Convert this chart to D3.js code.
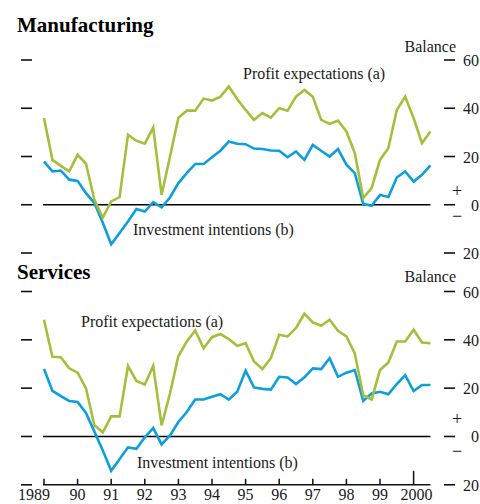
<!DOCTYPE html>
<html>
<head>
<meta charset="utf-8">
<script src="https://cdn.jsdelivr.net/npm/d3@7"></script>
<style>
  html, body { margin: 0; padding: 0; background: #fff; }
  svg { display: block; }
  text { font-family: "Liberation Serif", "Times New Roman", serif; fill: #1a1a1a; }
</style>
</head>
<body>
<svg id="chart" width="480" height="504"></svg>
<script>
// Quarterly survey balances, 1989 Q1 to 2000 Q3
const quarters = d3.range(47).map(i => 1989 + i / 4);

const mfgProfit = [36, 18.6, 16.1, 13.8, 20.7, 17, 2, -5.3, 1.4, 3.2, 29, 26.5, 25.3, 32, 4.1,
  20, 36.1, 39, 39, 44, 43.2, 44.8, 49, 43.8, 39.3, 35.2, 38, 36.1, 40, 39, 44.8, 47.6,
  44.8, 35.2, 33.5, 34.9, 30.4, 21.4, 2.8, 6.9, 18.6, 23.5, 39.3, 44.8, 35.9, 25.5, 30.4];
const mfgInvest = [17.9, 13.8, 14.2, 10.4, 9.9, 4.8, 0.7, -7.5, -16.4, -11.7, -6.9, -1.8, -2.8, 1.1, -1.1,
  3, 9, 13.1, 16.9, 16.9, 19.7, 22.4, 26.2, 25.3, 25.1, 23.3, 23.1, 22.5, 22.4, 19.7, 22.1, 18.6,
  24.8, 22.4, 20, 23.1, 16.6, 13.1, 0.4, -0.4, 4.1, 3.2, 11.3, 13.8, 9.6, 12.4, 16.3];
const svcProfit = [48.3, 33, 32.8, 28.2, 26.4, 19.9, 4.6, 1.7, 8.3, 8.3, 29.2, 23, 21.5, 29.2, 4.6,
  17.8, 33.3, 39.3, 43.9, 36.5, 41.1, 42.4, 40.3, 37.5, 38.6, 31, 27.9, 32.4, 42.1, 41.4, 44.9, 50.8,
  47.2, 45.8, 48.3, 43.7, 41.4, 34.4, 17.1, 15.3, 27.5, 30.6, 39.3, 39.3, 44.2, 38.9, 38.6];
const svcInvest = [27.9, 18.9, 16.7, 14.7, 14.3, 9.7, 2, -5.8, -14.2, -9.3, -4.5, -5.1, -0.3, 3.5, -3.3,
  0.4, 6, 10.1, 15.3, 15.3, 16.4, 17.5, 15.3, 18.5, 27.2, 20.3, 19.7, 19.4, 24.7, 24.4, 21.7, 24.5,
  28.2, 27.9, 32.4, 24.7, 26.4, 27.5, 14.7, 17.8, 18.5, 17.5, 21.7, 25.4, 18.8, 21.3, 21.3];

const yearTicks = [1989, 1990, 1991, 1992, 1993, 1994, 1995, 1996, 1997, 1998, 1999, 2000];
const yearLabels = ["1989", "90", "91", "92", "93", "94", "95", "96", "97", "98", "99", "2000"];
const balanceTicks = [-20, 0, 20, 40, 60];

const profitColor = "#a5bf3d";
const investColor = "#0c9fdb";

const svg = d3.select("#chart");
const x = d3.scaleLinear().domain([1989, 2000]).range([44, 413.6]);
const xEnd = 2000.5;

const panels = [
  { title: "Manufacturing", titleY: 32, top: 60, bottom: 253, profit: mfgProfit, invest: mfgInvest,
    balanceY: 52, signOff: 12.5,
    profitLabel: [243, 79], investLabel: [133, 235] },
  { title: "Services", titleY: 279, top: 291.5, bottom: 484.8, profit: svcProfit, invest: svcInvest,
    balanceY: 282, signOff: 16,
    profitLabel: [81, 327], investLabel: [137, 468] }
];

panels.forEach((p, k) => {
  const y = d3.scaleLinear().domain([-20, 60]).range([p.bottom, p.top]);
  const g = svg.append("g");

  g.append("text").attr("x", 17).attr("y", p.titleY)
    .attr("font-size", 21).attr("font-weight", "bold").style("fill", "#000")
    .text(p.title);

  g.append("text").attr("x", 456).attr("y", p.balanceY).attr("text-anchor", "end")
    .attr("font-size", 16).text("Balance");

  // left-hand tick marks
  g.selectAll("line.lt").data(balanceTicks).join("line")
    .attr("x1", 21).attr("x2", 32)
    .attr("y1", d => y(d)).attr("y2", d => y(d))
    .attr("stroke", "#111").attr("stroke-width", 1.6);

  // right-hand axis: ticks and unsigned labels
  g.selectAll("line.rt").data(balanceTicks).join("line")
    .attr("x1", 444).attr("x2", 455)
    .attr("y1", d => y(d)).attr("y2", d => y(d))
    .attr("stroke", "#111").attr("stroke-width", 1.6);
  g.selectAll("text.rl").data(balanceTicks).join("text")
    .attr("x", 479).attr("y", d => y(d) + 6).attr("text-anchor", "end")
    .attr("font-size", 16).text(d => String(Math.abs(d)));

  g.append("text").attr("x", 457).attr("y", y(0) - p.signOff + 5).attr("text-anchor", "middle")
    .attr("font-size", 18).text("+");
  g.append("text").attr("x", 457).attr("y", y(0) + p.signOff + 5).attr("text-anchor", "middle")
    .attr("font-size", 18).text("\u2212");

  // zero line
  g.append("line").attr("x1", x(1989) - 1).attr("x2", x(xEnd))
    .attr("y1", y(0)).attr("y2", y(0))
    .attr("stroke", "#000").attr("stroke-width", 1.5);

  const line = d3.line().x((d, i) => x(quarters[i])).y(d => y(d));
  g.append("path").datum(p.invest).attr("d", line)
    .attr("fill", "none").attr("stroke", investColor).attr("stroke-width", 2.6)
    .attr("stroke-linejoin", "miter");
  g.append("path").datum(p.profit).attr("d", line)
    .attr("fill", "none").attr("stroke", profitColor).attr("stroke-width", 2.6)
    .attr("stroke-linejoin", "miter");

  g.append("text").attr("x", p.profitLabel[0]).attr("y", p.profitLabel[1])
    .attr("font-size", 16).text("Profit expectations (a)");
  g.append("text").attr("x", p.investLabel[0]).attr("y", p.investLabel[1])
    .attr("font-size", 16).text("Investment intentions (b)");

  if (k === 1) {
    const axisY = y(-20);
    g.append("line").attr("x1", x(1989) - 1).attr("x2", x(xEnd))
      .attr("y1", axisY).attr("y2", axisY)
      .attr("stroke", "#111").attr("stroke-width", 1.5);
    g.selectAll("line.xt").data(yearTicks).join("line")
      .attr("x1", d => x(d)).attr("x2", d => x(d))
      .attr("y1", axisY).attr("y2", d => d === 2000 ? axisY - 14 : axisY - 6)
      .attr("stroke", "#111").attr("stroke-width", 1.5);
    g.selectAll("text.xl").data(yearTicks).join("text")
      .attr("x", (d, i) => x(d) + (i === 0 ? -10 : i === yearTicks.length - 1 ? 3 : 0))
      .attr("y", 500).attr("text-anchor", "middle")
      .attr("font-size", 16).text((d, i) => yearLabels[i]);
  }
});
</script>
</body>
</html>
